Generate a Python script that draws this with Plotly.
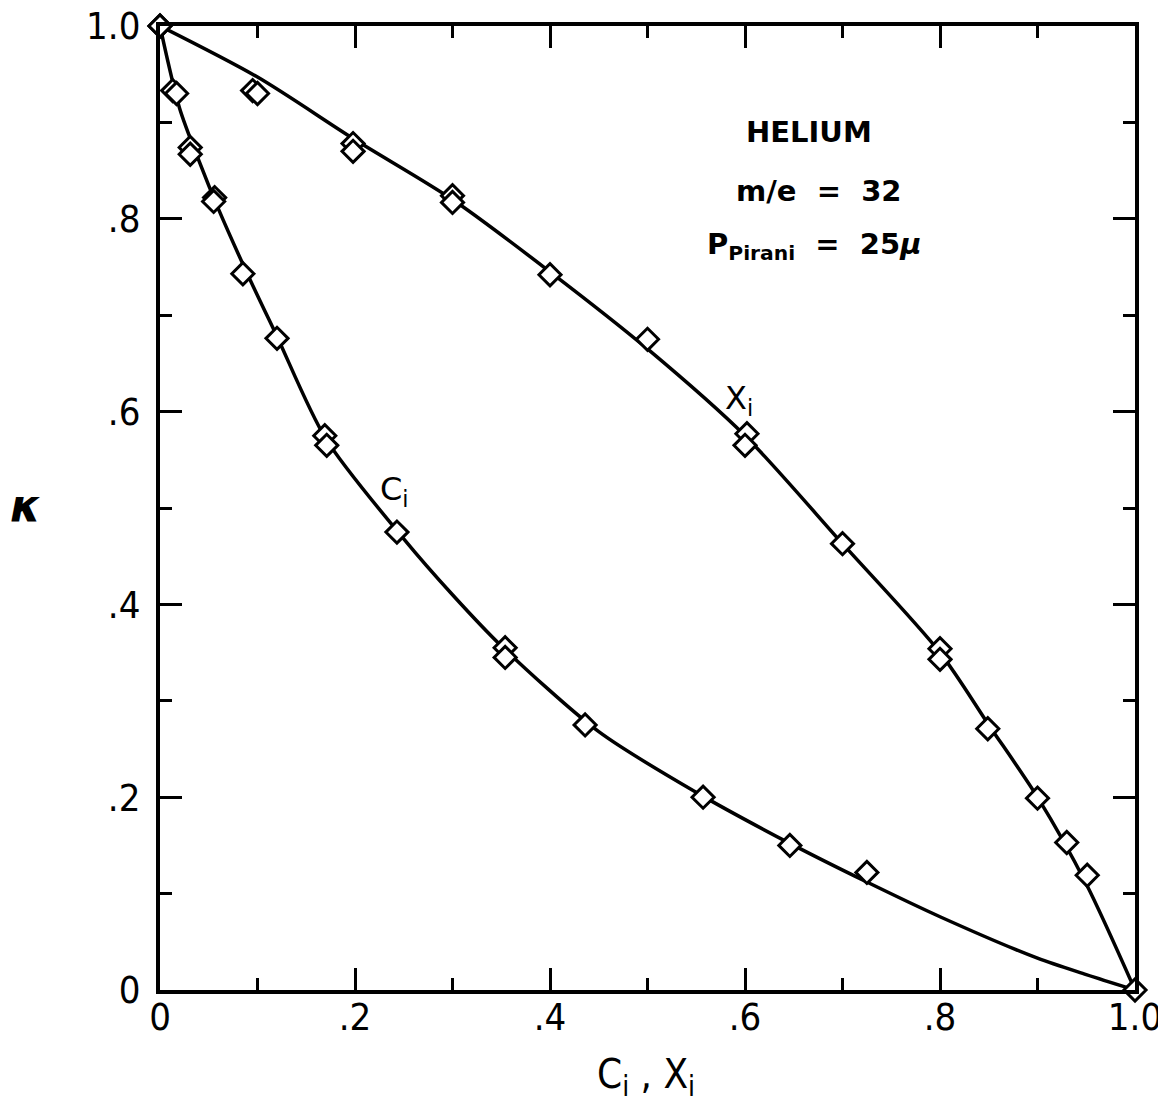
import plotly.graph_objects as go

# Measured points (diamonds)
ci_x = [0.0, 0.013, 0.017, 0.031, 0.031, 0.056, 0.055, 0.085, 0.120, 0.169, 0.171, 0.243, 0.354, 0.354, 0.436, 0.557, 0.646, 0.725, 1.0]
ci_y = [1.0, 0.933, 0.930, 0.874, 0.867, 0.822, 0.818, 0.743, 0.676, 0.575, 0.565, 0.475, 0.355, 0.345, 0.275, 0.200, 0.150, 0.122, 0.0]

xi_x = [0.0, 0.095, 0.100, 0.198, 0.198, 0.300, 0.300, 0.400, 0.500, 0.602, 0.600, 0.700, 0.800, 0.800, 0.849, 0.900, 0.930, 0.951]
xi_y = [1.0, 0.933, 0.930, 0.878, 0.870, 0.824, 0.817, 0.742, 0.675, 0.577, 0.565, 0.463, 0.354, 0.343, 0.271, 0.199, 0.153, 0.119]

# Smooth curves
ci_line_x = [0.0, 0.02, 0.04, 0.06, 0.09, 0.12, 0.17, 0.25, 0.30, 0.35, 0.45, 0.55, 0.65, 0.725, 0.80, 0.90, 0.95, 1.0]
ci_line_y = [1.0, 0.915, 0.860, 0.810, 0.742, 0.678, 0.572, 0.468, 0.410, 0.357, 0.268, 0.205, 0.150, 0.112, 0.076, 0.033, 0.016, 0.0]

xi_line_x = [0.0, 0.1, 0.2, 0.3, 0.4, 0.5, 0.6, 0.7, 0.8, 0.85, 0.9, 0.95, 1.0]
xi_line_y = [1.0, 0.947, 0.882, 0.820, 0.745, 0.665, 0.575, 0.463, 0.350, 0.275, 0.200, 0.110, 0.0]

tick_vals = [0, 0.2, 0.4, 0.6, 0.8, 1.0]
x_tick_text = ["0", ".2", ".4", ".6", ".8", "1.0"]
y_tick_text = ["0", ".2", ".4", ".6", ".8", "1.0"]

TICKFONT = "Liberation Sans Narrow, DejaVu Sans Condensed, Liberation Sans"
ANNFONT = "DejaVu Sans"

fig = go.Figure()
for lx, ly in ((ci_line_x, ci_line_y), (xi_line_x, xi_line_y)):
    fig.add_trace(go.Scatter(x=lx, y=ly, mode="lines",
                             line=dict(color="black", width=3.5, shape="spline", smoothing=0.8),
                             showlegend=False, hoverinfo="skip", cliponaxis=False))
for px, py, nm in ((ci_x, ci_y, "C_i"), (xi_x, xi_y, "X_i")):
    fig.add_trace(go.Scatter(x=px, y=py, mode="markers", name=nm,
                             marker=dict(symbol="diamond", size=17, color="white",
                                         line=dict(color="black", width=3)),
                             showlegend=False, cliponaxis=False))

axis_common = dict(range=[0, 1.0], showline=True, linecolor="black", linewidth=4,
                   mirror="ticks", ticks="inside", ticklen=22, tickwidth=3, tickcolor="black",
                   showgrid=False, zeroline=False, automargin=False, ticklabeloverflow="allow",
                   tickfont=dict(family=TICKFONT, size=38, color="black"),
                   minor=dict(ticks="inside", ticklen=12, tickwidth=3, tickcolor="black",
                              dtick=0.1, showgrid=False))

fig.update_xaxes(tickvals=tick_vals, ticktext=x_tick_text, ticklabelstandoff=-10, **axis_common)
fig.update_yaxes(tickvals=tick_vals, ticktext=y_tick_text, ticklabelstandoff=8, **axis_common)

blk = dict(family=ANNFONT, size=29, color="black", weight="bold")
fig.add_annotation(x=0.666, y=0.890, xref="x", yref="y", text="HELIUM", showarrow=False,
                   font=blk, yanchor="middle", xanchor="center")
fig.add_annotation(x=0.676, y=0.829, xref="x", yref="y", text="m/e  =  32", showarrow=False,
                   font=blk, yanchor="middle", xanchor="center")
fig.add_annotation(x=0.671, y=0.772, xref="x", yref="y", text="P<sub>Pirani</sub>  =  25<i>μ</i>",
                   showarrow=False, font=blk, yanchor="middle", xanchor="center")

lbl = dict(family=ANNFONT, size=32, color="black")
fig.add_annotation(x=0.594, y=0.612, xref="x", yref="y", text="X<sub>i</sub>", showarrow=False,
                   font=lbl, yanchor="middle", xanchor="center")
fig.add_annotation(x=0.241, y=0.518, xref="x", yref="y", text="C<sub>i</sub>", showarrow=False,
                   font=lbl, yanchor="middle", xanchor="center")

fig.add_annotation(x=-0.138, y=0.503, xref="paper", yref="paper", text="<i>κ</i>", showarrow=False,
                   xanchor="center", yanchor="middle",
                   font=dict(family=ANNFONT, size=44, color="black", weight="bold"))
fig.add_annotation(x=0.498, y=-0.090, xref="paper", yref="paper", text="C<sub>i</sub> , X<sub>i</sub>",
                   showarrow=False, xanchor="center", yanchor="middle",
                   font=dict(family=TICKFONT, size=40, color="black"))

# the page body has an 8px margin; compensate so the plot frame lands where the reference has it
fig.update_layout(width=1166, height=1103,
                  margin=dict(l=152, r=39, t=18, b=121, autoexpand=False),
                  plot_bgcolor="white", paper_bgcolor="white")

fig.write_html("out.html")
